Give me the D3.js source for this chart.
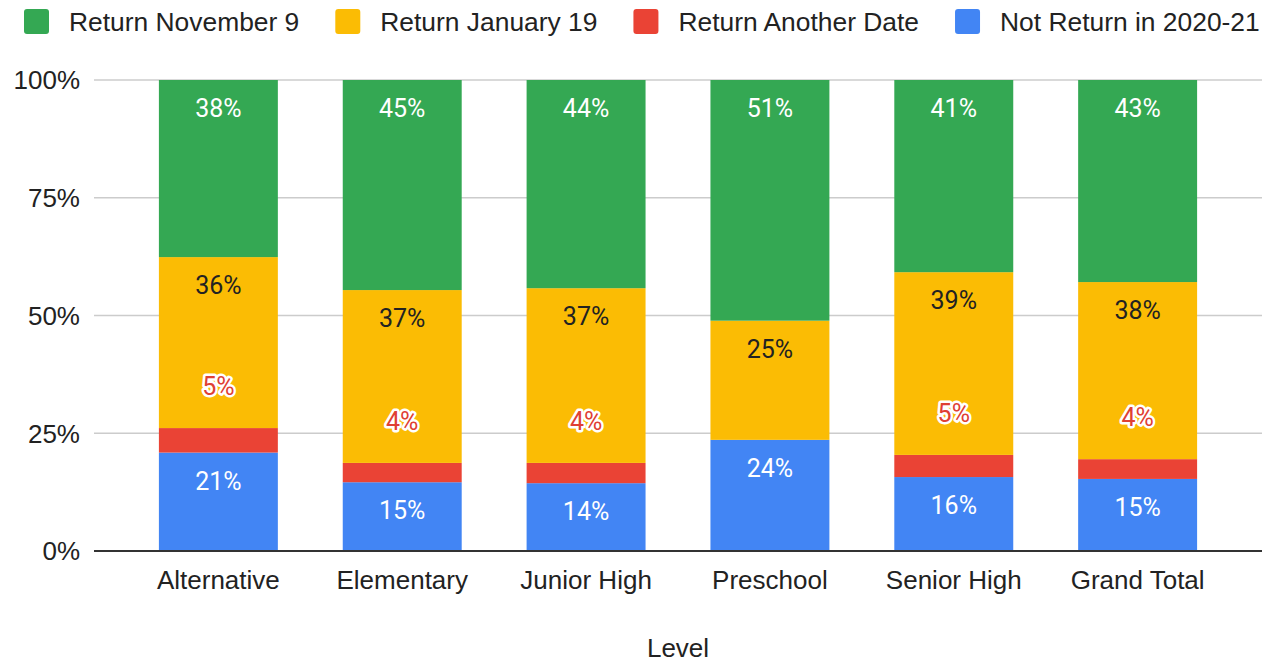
<!DOCTYPE html>
<html>
<head>
<meta charset="utf-8">
<script src="https://cdn.jsdelivr.net/npm/d3@7"></script>
<style>
  body { margin: 0; background: #fff; }
  svg { display: block; }
</style>
</head>
<body>
<script>
//Global variables
    const width = 1263;
    const height = 664;
    const plotLeft = 94, plotRight = 1262;
    const plotTop = 80, plotBottom = 551;

//Data (share of each level, bottom segment first)
    const levels = ["Alternative", "Elementary", "Junior High", "Preschool", "Senior High", "Grand Total"];
    const notReturn   = [0.209, 0.146, 0.144, 0.236, 0.157, 0.153];
    const anotherDate = [0.052, 0.041, 0.043, 0.000, 0.047, 0.042];
    const returnJan   = [0.363, 0.367, 0.371, 0.253, 0.388, 0.376];
    const returnNov   = [0.376, 0.446, 0.442, 0.511, 0.408, 0.429];
    const yTicks = [0, 0.25, 0.5, 0.75, 1];

    const seriesNames = ["Return November 9", "Return January 19", "Return Another Date", "Not Return in 2020-21"];
    const keys = ["notReturn", "anotherDate", "returnJan", "returnNov"];
    const colors = { returnNov: "#34a853", returnJan: "#fbbc04", anotherDate: "#ea4335", notReturn: "#4285f4" };
    const legendKeys = ["returnNov", "returnJan", "anotherDate", "notReturn"];

    const rows = levels.map((lv, i) => ({
        level: lv,
        notReturn: notReturn[i],
        anotherDate: anotherDate[i],
        returnJan: returnJan[i],
        returnNov: returnNov[i]
    }));

    const stacked = d3.stack().keys(keys)(rows);

//Scales
    const xScale = d3.scaleBand()
                    .domain(levels)
                    .range([plotLeft, plotRight])
                    .padding(0.353);

    const yScale = d3.scaleLinear()
                    .domain([0, 1])
                    .range([plotBottom, plotTop]);

//SVG element
    const svg = d3.select("body")
                .append("svg")
                .attr("width", width)
                .attr("height", height)
                .style("font-family", "Arial, 'Liberation Sans', sans-serif");

//Gridlines and y labels
    svg.append("g")
        .selectAll("line")
        .data(yTicks.filter(t => t > 0))
        .enter()
        .append("line")
        .attr("x1", plotLeft)
        .attr("x2", plotRight)
        .attr("y1", d => yScale(d))
        .attr("y2", d => yScale(d))
        .attr("stroke", "#cccccc")
        .attr("stroke-width", 1.5);

    svg.append("g")
        .selectAll("text")
        .data(yTicks)
        .enter()
        .append("text")
        .attr("x", 80)
        .attr("y", d => yScale(d))
        .attr("dy", "0.36em")
        .attr("text-anchor", "end")
        .attr("font-size", 26)
        .attr("fill", "#222")
        .text(d3.format(".0%"));

//Bars
    const layers = svg.append("g")
        .selectAll("g")
        .data(stacked)
        .enter()
        .append("g")
        .attr("fill", d => colors[d.key]);

    layers.selectAll("rect")
        .data(d => d)
        .enter()
        .append("rect")
        .attr("x", d => xScale(d.data.level))
        .attr("y", d => yScale(d[1]))
        .attr("width", xScale.bandwidth())
        .attr("height", d => yScale(d[0]) - yScale(d[1]));

//Data labels
    const fmt = d3.format(".0%");
    stacked.forEach(layer => {
        const pts = layer.filter(d => d[1] - d[0] > 0.005);
        const t = svg.append("g")
            .selectAll("text")
            .data(pts)
            .enter()
            .append("text")
            .attr("x", d => xScale(d.data.level) + xScale.bandwidth() / 2)
            .attr("y", d => layer.key === "anotherDate" ? yScale(d[1]) - 42 : yScale(d[1]) + 28)
            .attr("dy", "0.36em")
            .attr("text-anchor", "middle")
            .attr("font-family", "Roboto, Arial, sans-serif")
            .attr("font-size", 25)
            .text(d => fmt(d[1] - d[0]));

        if (layer.key === "anotherDate") {
            t.attr("fill", "#df4033")
             .attr("stroke", "#ffffff")
             .attr("stroke-width", 5)
             .attr("stroke-linejoin", "round")
             .attr("paint-order", "stroke");
        } else if (layer.key === "returnJan") {
            t.attr("fill", "#222222");
        } else {
            t.attr("fill", "#ffffff");
        }
    });

//Baseline
    svg.append("line")
        .attr("x1", plotLeft)
        .attr("x2", plotRight)
        .attr("y1", yScale(0))
        .attr("y2", yScale(0))
        .attr("stroke", "#333333")
        .attr("stroke-width", 2);

//X axis labels
    const bottomAxis = d3.axisBottom(xScale).tickSize(0).tickPadding(20);
    const xg = svg.append("g")
        .attr("transform", "translate(0," + plotBottom + ")")
        .call(bottomAxis);
    xg.select(".domain").remove();
    xg.selectAll("text")
        .attr("font-size", 26)
        .attr("font-family", "Arial, 'Liberation Sans', sans-serif")
        .attr("fill", "#222");

//Axis title
    svg.append("text")
        .attr("x", (plotLeft + plotRight) / 2)
        .attr("y", 648)
        .attr("dy", "0.36em")
        .attr("text-anchor", "middle")
        .attr("font-size", 26)
        .attr("fill", "#222")
        .text("Level");

//Legend
    const legend = svg.append("g");
    let lx = 24;
    legendKeys.forEach((k, i) => {
        legend.append("rect")
            .attr("x", lx)
            .attr("y", 9)
            .attr("width", 25)
            .attr("height", 25)
            .attr("rx", 3)
            .attr("fill", colors[k]);
        const txt = legend.append("text")
            .attr("x", lx + 45)
            .attr("y", 21.5)
            .attr("dy", "0.36em")
            .attr("font-size", 26.4)
            .attr("fill", "#222")
            .text(seriesNames[i]);
        lx = lx + 45 + txt.node().getComputedTextLength() + 36;
    });
</script>
</body>
</html>
